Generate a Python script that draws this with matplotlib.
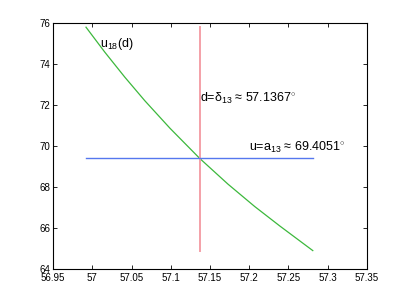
import matplotlib
matplotlib.use("Agg")
import matplotlib.pyplot as plt
import numpy as np

plt.rcParams['font.family'] = ['Liberation Sans', 'DejaVu Sans']
plt.rcParams['mathtext.fontset'] = 'custom'
plt.rcParams['mathtext.rm'] = 'Liberation Sans'
plt.rcParams['mathtext.it'] = 'Liberation Sans'
plt.rcParams['mathtext.bf'] = 'Liberation Sans'

# curve u18(d)
d_vals = [56.992, 57.016, 57.0415, 57.067, 57.099, 57.1367, 57.173, 57.207, 57.239, 57.281]
u_vals = [75.80, 74.58, 73.36, 72.21, 70.87, 69.4051, 68.14, 67.05, 66.10, 64.90]

delta13 = 57.1367
a13 = 69.4051

xticks = [56.95, 57.0, 57.05, 57.1, 57.15, 57.2, 57.25, 57.3, 57.35]
xlabels = ['56.95', '57', '57.05', '57.1', '57.15', '57.2', '57.25', '57.3', '57.35']
yticks = [64, 66, 68, 70, 72, 74, 76]

fig = plt.figure(figsize=(4.05, 3.04), dpi=100)
ax = fig.add_axes([0.131, 0.115, 0.775, 0.809])

ax.plot(d_vals, u_vals, color='#3cb83c', linewidth=0.9)
ax.plot([delta13, delta13], [min(u_vals), max(u_vals)], color='#f4a0a8', linewidth=1.4)
ax.plot([min(d_vals), max(d_vals)], [a13, a13], color='#5577ee', linewidth=1.0)

ax.text(57.0096, 75.0, r'u$_{18}$(d)', fontsize=9, va='center')
ax.text(57.1375, 72.3, r'd=$\delta_{13}$ ≈ 57.1367$^{\circ}$', fontsize=9, va='center')
ax.text(57.200, 69.95, r'u=a$_{13}$ ≈ 69.4051$^{\circ}$', fontsize=9, va='center')

ax.set_xlim(56.95, 57.35)
ax.set_ylim(64, 76)
ax.set_xticks(xticks)
ax.set_xticklabels(xlabels)
ax.set_yticks(yticks)
ax.tick_params(direction='in', top=True, right=True, labelsize=7, length=3, width=0.6)
ax.tick_params(axis='x', pad=3)
ax.tick_params(axis='y', pad=2)
for s in ax.spines.values():
    s.set_linewidth(0.8)

fig.savefig('out.png', dpi=100)
